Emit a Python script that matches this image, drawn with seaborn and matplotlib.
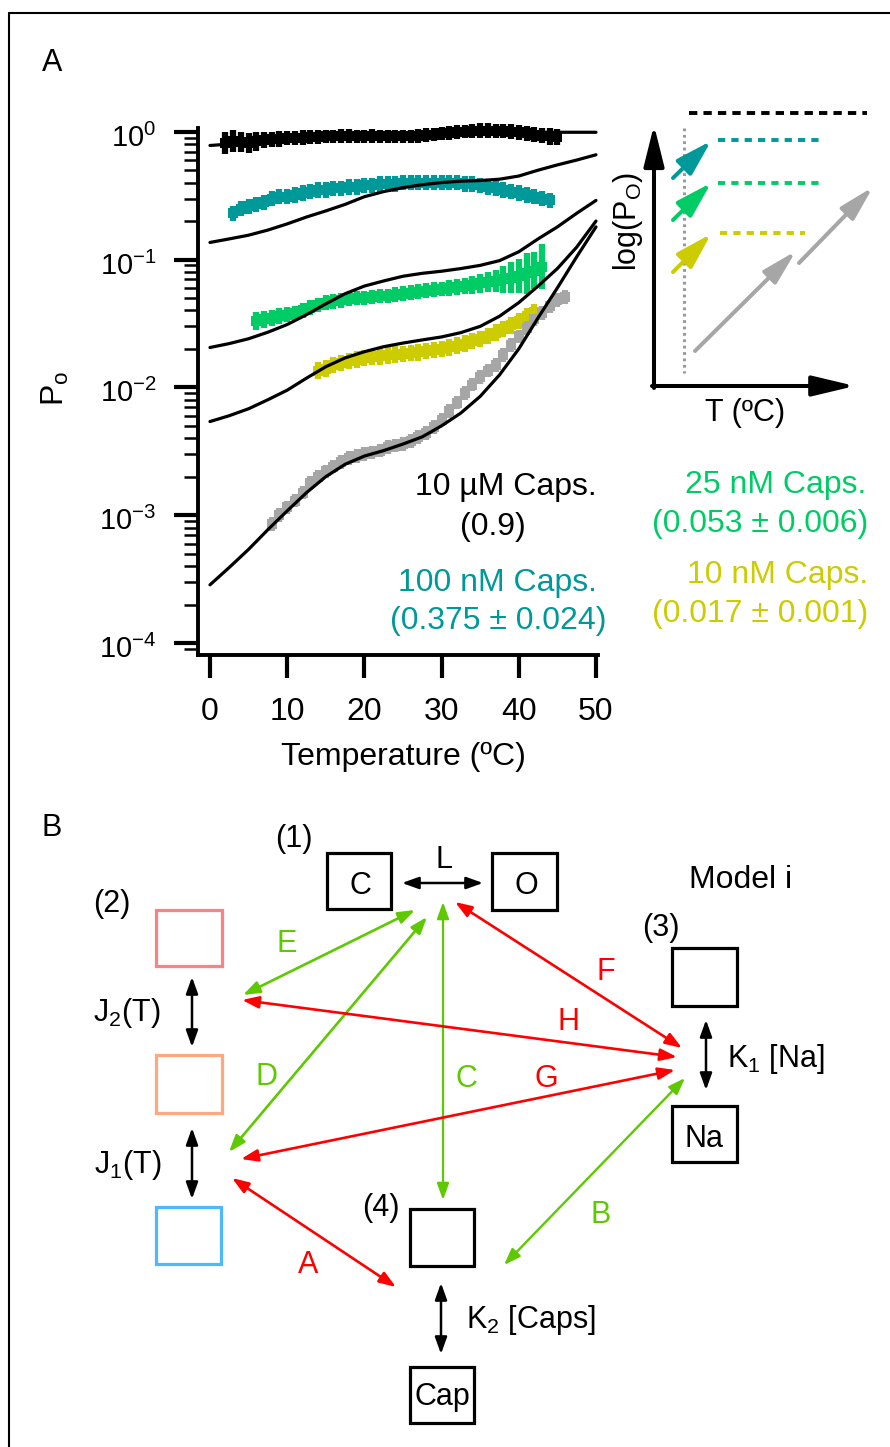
import numpy as np
import matplotlib
matplotlib.use("Agg")
import matplotlib.pyplot as plt
import matplotlib.transforms as mtransforms
import seaborn as sns
from matplotlib.patches import Rectangle, ArrowStyle
from matplotlib.ticker import LogLocator, NullFormatter, FixedLocator

# ---------------- data ----------------
temp_black = list(range(2, 46))
po_black = [0.82, 0.84, 0.83, 0.82, 0.84, 0.86, 0.87, 0.88, 0.89, 0.89, 0.90, 0.91,
            0.91, 0.92, 0.92, 0.93, 0.93, 0.92, 0.92, 0.93, 0.92, 0.92, 0.92, 0.92,
            0.92, 0.93, 0.94, 0.95, 0.97, 0.98, 0.99, 1.00, 1.01, 1.02, 1.02, 1.01,
            1.01, 1.00, 0.99, 0.97, 0.95, 0.93, 0.92, 0.91]
err_black = [0.22, 0.22, 0.20, 0.20, 0.18, 0.16, 0.15, 0.15, 0.14, 0.14, 0.14, 0.14,
             0.13, 0.13, 0.13, 0.13, 0.13, 0.13, 0.13, 0.13, 0.13, 0.13, 0.13, 0.13,
             0.13, 0.13, 0.13, 0.13, 0.13, 0.13, 0.13, 0.13, 0.14, 0.14, 0.14, 0.14,
             0.14, 0.14, 0.14, 0.15, 0.15, 0.15, 0.16, 0.16]

temp_teal = list(range(3, 45))
po_teal = [0.23, 0.25, 0.26, 0.27, 0.28, 0.30, 0.31, 0.31, 0.32, 0.33, 0.34, 0.35,
           0.35, 0.36, 0.36, 0.37, 0.37, 0.38, 0.38, 0.39, 0.39, 0.39, 0.40, 0.40,
           0.40, 0.40, 0.40, 0.40, 0.40, 0.40, 0.39, 0.39, 0.38, 0.37, 0.36, 0.35,
           0.34, 0.33, 0.32, 0.31, 0.30, 0.29]
err_teal = 0.15

temp_green = list(range(6, 44))
po_green = [0.033, 0.034, 0.035, 0.036, 0.037, 0.038, 0.040, 0.042, 0.044, 0.046,
            0.047, 0.048, 0.049, 0.050, 0.050, 0.051, 0.052, 0.052, 0.053, 0.054,
            0.055, 0.056, 0.057, 0.058, 0.059, 0.060, 0.061, 0.062, 0.063, 0.065,
            0.067, 0.068, 0.070, 0.072, 0.074, 0.078, 0.082, 0.088]
err_green = [0.17, 0.16, 0.15, 0.15, 0.15, 0.14, 0.14, 0.14, 0.14, 0.14,
             0.14, 0.14, 0.14, 0.14, 0.14, 0.14, 0.14, 0.14, 0.14, 0.14,
             0.14, 0.14, 0.14, 0.14, 0.14, 0.15, 0.15, 0.16, 0.17, 0.18,
             0.20, 0.22, 0.27, 0.32, 0.36, 0.45, 0.40, 0.50]

temp_yellow = list(range(14, 43))
po_yellow = [0.0135, 0.0140, 0.0150, 0.0155, 0.0160, 0.0165, 0.0170, 0.0172, 0.0175,
             0.0178, 0.0180, 0.0182, 0.0185, 0.0188, 0.0192, 0.0196, 0.0200, 0.0205,
             0.0212, 0.0220, 0.0230, 0.0240, 0.0252, 0.0268, 0.0285, 0.0305, 0.0330,
             0.0360, 0.0390]
err_yellow = 0.16

temp_gray = list(range(8, 47))
po_gray = [0.00085, 0.0010, 0.00115, 0.0013, 0.0015, 0.0018, 0.0020, 0.0022, 0.0024,
           0.0026, 0.0028, 0.0029, 0.0030, 0.0031, 0.0032, 0.0034, 0.0035, 0.0036,
           0.0038, 0.0041, 0.0044, 0.0049, 0.0056, 0.0065, 0.0076, 0.0090, 0.0105,
           0.0120, 0.0135, 0.0150, 0.0180, 0.0215, 0.0250, 0.0290, 0.0340, 0.0380,
           0.0430, 0.0480, 0.0510]
err_gray = 0.13

fit_temp = [0, 2.5, 5, 7.5, 10, 12.5, 15, 17.5, 20, 22.5, 25, 27.5, 30, 32.5, 35,
            37.5, 40, 42.5, 45, 47.5, 50]
fit_black = [0.78, 0.80, 0.82, 0.84, 0.86, 0.88, 0.895, 0.905, 0.91, 0.915, 0.92,
             0.93, 0.94, 0.955, 0.97, 0.98, 0.985, 0.99, 0.99, 0.99, 0.99]
fit_teal = [0.136, 0.145, 0.155, 0.17, 0.19, 0.215, 0.24, 0.27, 0.31, 0.34, 0.365,
            0.385, 0.40, 0.41, 0.415, 0.425, 0.45, 0.50, 0.55, 0.60, 0.66]
fit_green = [0.0205, 0.022, 0.024, 0.027, 0.031, 0.037, 0.045, 0.054, 0.062, 0.068,
             0.074, 0.078, 0.081, 0.085, 0.090, 0.098, 0.115, 0.145, 0.18, 0.23, 0.29]
fit_yellow = [0.0054, 0.0060, 0.0068, 0.0080, 0.0095, 0.0118, 0.0145, 0.0170, 0.0190,
              0.0208, 0.0222, 0.0235, 0.0248, 0.0268, 0.030, 0.036, 0.046, 0.062,
              0.085, 0.125, 0.20]
fit_gray = [0.000285, 0.00039, 0.00054, 0.00077, 0.00108, 0.0015, 0.0020, 0.0025,
            0.0029, 0.0032, 0.0036, 0.0041, 0.0050, 0.0063, 0.0085, 0.0125, 0.020,
            0.035, 0.060, 0.105, 0.18]

x_ticks = [0, 10, 20, 30, 40, 50]
y_ticks = [1e-4, 1e-3, 1e-2, 1e-1, 1]
y_ticklabels = ["$10^{-4}$", "$10^{-3}$", "$10^{-2}$", "$10^{-1}$", "$10^{0}$"]

C_BLACK, C_TEAL, C_GREEN, C_YELLOW, C_GRAY = "#000000", "#009999", "#00CC66", "#CCCC00", "#A6A6A6"
C_DG, C_DR = "#5EC800", "#FF0000"

# ---------------- style ----------------
sns.set_theme(style="ticks")
plt.rcParams["font.family"] = ["Liberation Sans", "DejaVu Sans"]
plt.rcParams["mathtext.fontset"] = "custom"
plt.rcParams["mathtext.rm"] = "Liberation Sans"
plt.rcParams["mathtext.it"] = "Liberation Sans:italic"
plt.rcParams["mathtext.default"] = "regular"
plt.rcParams["lines.scale_dashes"] = False
for k in ["text.color", "axes.labelcolor", "xtick.color", "ytick.color", "axes.edgecolor"]:
    plt.rcParams[k] = "black"

W, H = 890, 1447
fig = plt.figure(figsize=(W / 100, H / 100), dpi=100)

# ---------------- panel A main plot ----------------
ax = fig.add_axes([198 / W, 1 - 655 / H, 400 / W, 527 / H])
ax.set_yscale("log")

series = [
    (temp_black, po_black, err_black, C_BLACK),
    (temp_teal, po_teal, err_teal, C_TEAL),
    (temp_green, po_green, err_green, C_GREEN),
    (temp_yellow, po_yellow, err_yellow, C_YELLOW),
    (temp_gray, po_gray, err_gray, C_GRAY),
]
for t, p, e, c in series:
    p = np.asarray(p, float)
    f = 1 + np.asarray(e, float)
    lo = p - p / f
    hi = p * f - p
    ax.errorbar(t, p, yerr=[lo, hi], fmt="s", ms=6.5, color=c, ecolor=c, mew=0,
                elinewidth=4.5, capsize=3.6, capthick=2.8, clip_on=False, zorder=2)

for fv in [fit_black, fit_teal, fit_green, fit_yellow, fit_gray]:
    sns.lineplot(x=fit_temp, y=fv, ax=ax, color="black", lw=2.3, estimator=None,
                 sort=False, zorder=3)

ax.set_xlim(-1.55, 50.26)
ax.set_ylim(10 ** -4.094, 10 ** 0.029)
ax.xaxis.set_major_locator(FixedLocator(x_ticks))
ax.set_xticklabels([str(v) for v in x_ticks])
ax.yaxis.set_major_locator(FixedLocator(y_ticks))
ax.set_yticklabels(y_ticklabels)
ax.yaxis.set_minor_locator(LogLocator(base=10, subs=np.arange(2, 10), numticks=30))
ax.yaxis.set_minor_formatter(NullFormatter())
ax.tick_params(axis="x", which="major", direction="out", length=16.5, width=3,
               pad=14, labelsize=23)
ax.tick_params(axis="y", which="major", direction="out", length=17, width=3,
               pad=13, labelsize=21)
ax.tick_params(axis="y", which="minor", direction="out", length=10, width=1.8)
shift = mtransforms.ScaledTranslation(0, -0.15, fig.dpi_scale_trans)
for lab in ax.get_yticklabels():
    lab.set_verticalalignment("baseline")
    lab.set_transform(lab.get_transform() + shift)
for s in ["top", "right"]:
    ax.spines[s].set_visible(False)
for s in ["left", "bottom"]:
    ax.spines[s].set_linewidth(2.8)
ax.set_xlabel("")
ax.set_ylabel("")
ax.patch.set_alpha(0)

# ---------------- overlay in pixel coordinates ----------------
ov = fig.add_axes([0, 0, 1, 1])
ov.set_xlim(0, W)
ov.set_ylim(H, 0)
ov.axis("off")

ov.plot([9, 9], [13, H], color="black", lw=1.5)
ov.plot([9, W], [13, 13], color="black", lw=1.5)


def txt(x, y, s, color="black", size=22, ha="center", va="baseline", **kw):
    ov.text(x, y, s, color=color, fontsize=size, ha=ha, va=va, **kw)


def arrow(p0, p1, color, lw, hl, hw, style="-|>"):
    ov.annotate("", xy=p1, xytext=p0,
                arrowprops=dict(arrowstyle=ArrowStyle(style, head_length=hl, head_width=hw),
                                mutation_scale=1, color=color, lw=lw,
                                shrinkA=0, shrinkB=0))


txt(52, 71, "A", size=22)
txt(52, 836, "B", size=22)

txt(403, 765, "Temperature (ºC)", size=23)
txt(55, 388, "P$_\\mathrm{o}$", size=23, va="center", rotation=90)

txt(597, 495, "10 µM Caps.", size=23, ha="right")
txt(493, 535, "(0.9)", size=23)
txt(597, 591, "100 nM Caps.", color=C_TEAL, size=23, ha="right")
txt(606, 629, "(0.375 ± 0.024)", color=C_TEAL, size=23, ha="right")
txt(866, 493, "25 nM Caps.", color=C_GREEN, size=23, ha="right")
txt(868, 532, "(0.053 ± 0.006)", color=C_GREEN, size=23, ha="right")
txt(868, 583, "10 nM Caps.", color=C_YELLOW, size=23, ha="right")
txt(868, 622, "(0.017 ± 0.001)", color=C_YELLOW, size=23, ha="right")

# inset schematic
arrow((654, 388), (654, 125), "black", 2.9, 25, 6.2)
arrow((652, 386), (855, 386), "black", 2.9, 26, 6.2)
ov.plot([684, 684], [128, 373], color="#999999", lw=2.2, dashes=(2.0, 2.6))
ov.plot([689, 867], [113, 113], color="black", lw=2.8, dashes=(6.0, 4.4))
ov.plot([718, 820], [140, 140], color=C_TEAL, lw=2.8, dashes=(5.2, 4.4))
ov.plot([718, 820], [183, 183], color=C_GREEN, lw=2.8, dashes=(5.2, 4.4))
ov.plot([720, 805], [233, 233], color=C_YELLOW, lw=2.8, dashes=(5.2, 4.4))
arrow((673, 178), (711, 141), C_TEAL, 2.9, 22, 6.5)
arrow((673, 220), (711, 183), C_GREEN, 2.9, 22, 6.5)
arrow((673, 272), (711, 234), C_YELLOW, 2.9, 22, 6.5)
arrow((695, 351), (796, 251), C_GRAY, 2.9, 21, 5.5)
arrow((799, 263), (873, 187), C_GRAY, 2.9, 21, 5.5)
txt(628, 221, "log(P$_\\mathrm{O}$)", size=22, va="center", rotation=90)
txt(745, 421, "T (ºC)", size=22)

# ---------------- panel B diagram ----------------
def box(x0, y0, x1, y1, color="black"):
    ov.add_patch(Rectangle((x0, y0), x1 - x0, y1 - y0, fill=False, ec=color, lw=2.3))


box(327, 853, 391, 909)
box(492, 853, 557, 910)
box(156, 910, 222, 966, "#FF8080")
box(156, 1055, 222, 1113, "#FFA880")
box(156, 1207, 221, 1264, "#4DB8FF")
box(672, 948, 737, 1006)
box(672, 1106, 737, 1162)
box(410, 1209, 474, 1266)
box(410, 1367, 474, 1423)

txt(360, 894, "C", size=22)
txt(526, 894, "O", size=22)
txt(704, 1147, "Na", size=22)
txt(442, 1405, "Cap", size=22)

txt(294, 847, "(1)", size=22)
txt(112, 912, "(2)", size=22)
txt(661, 936, "(3)", size=22)
txt(381, 1216, "(4)", size=22)
txt(444, 868, "L", size=22)
txt(741, 888, "Model i", size=23)
txt(127, 1021, "J$_2$(T)", size=22)
txt(128, 1173, "J$_1$(T)", size=22)
txt(727, 1067, "K$_1$ [Na]", size=22, ha="left")
txt(466, 1328, "K$_2$ [Caps]", size=22, ha="left")

txt(287, 952, "E", color=C_DG, size=22)
txt(267, 1085, "D", color=C_DG, size=22)
txt(466, 1087, "C", color=C_DG, size=22)
txt(601, 1223, "B", color=C_DG, size=22)
txt(606, 980, "F", color=C_DR, size=22)
txt(568, 1030, "H", color=C_DR, size=22)
txt(546, 1087, "G", color=C_DR, size=22)
txt(308, 1273, "A", color=C_DR, size=22)

HL, HW = 10, 3.6
arrow((402, 883), (483, 883), "black", 1.8, HL, HW, "<|-|>")
arrow((192, 977), (192, 1047), "black", 1.8, HL, HW, "<|-|>")
arrow((192, 1128), (192, 1199), "black", 1.8, HL, HW, "<|-|>")
arrow((706, 1020), (706, 1090), "black", 1.8, HL, HW, "<|-|>")
arrow((441, 1283), (441, 1354), "black", 1.8, HL, HW, "<|-|>")

arrow((415, 910), (243, 995), C_DG, 1.9, HL, HW, "<|-|>")
arrow((427, 917), (229, 1152), C_DG, 1.9, HL, HW, "<|-|>")
arrow((443, 902), (443, 1200), C_DG, 1.6, HL, HW, "<|-|>")
arrow((685, 1078), (504, 1265), C_DG, 1.7, HL, HW, "<|-|>")
arrow((242, 1000), (677, 1057), C_DR, 1.9, HL, HW, "<|-|>")
arrow((455, 902), (682, 1048), C_DR, 1.9, HL, HW, "<|-|>")
arrow((675, 1070), (241, 1159), C_DR, 1.9, HL, HW, "<|-|>")
arrow((232, 1178), (396, 1287), C_DR, 1.9, HL, HW, "<|-|>")

fig.savefig("out.png", dpi=100)
